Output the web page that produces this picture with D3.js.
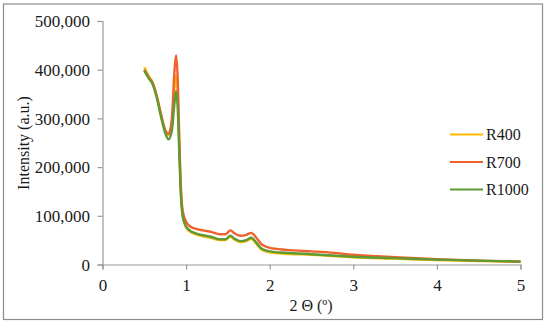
<!DOCTYPE html>
<html>
<head>
<meta charset="utf-8">
<script src="https://cdn.jsdelivr.net/npm/d3@7"></script>
<style>
  body { margin: 0; background: #fff; }
</style>
</head>
<body>
<svg id="grafico"></svg>
<script>
// angulos 2 theta
const angulos = [0.5, 0.55, 0.6, 0.65, 0.7, 0.75, 0.79, 0.83, 0.86, 0.88, 0.9, 0.92, 0.94, 0.96, 1.0, 1.05, 1.1, 1.2, 1.3, 1.4, 1.47, 1.53, 1.58, 1.65, 1.72, 1.78, 1.84, 1.9, 2.0, 2.2, 2.5, 2.7, 3.0, 3.5, 4.0, 4.5, 5.0];

const r400 = [405000, 388000, 374000, 346000, 308000, 275000, 266000, 290000, 360000, 388000, 350000, 235000, 140000, 100000, 76000, 67000, 63000, 58000, 55000, 50000, 50000, 57000, 51000, 46000, 48000, 53000, 43000, 31000, 25000, 22000, 20000, 18000, 15000, 12000, 9000, 7000, 5500];
const r700 = [400000, 385000, 372000, 345000, 308000, 276000, 268000, 300000, 395000, 430000, 380000, 250000, 150000, 110000, 88000, 78000, 74000, 70000, 67000, 62000, 62000, 70000, 64000, 59000, 61000, 65000, 55000, 42000, 34000, 30000, 27000, 25000, 20000, 15000, 11000, 8000, 6000];
const r1000 = [398000, 383000, 370000, 342000, 303000, 270000, 257000, 275000, 330000, 356000, 320000, 220000, 135000, 98000, 78000, 69000, 65000, 60000, 57000, 52000, 52000, 59000, 53000, 48000, 50000, 55000, 45000, 33000, 27000, 24000, 21000, 19000, 16000, 13000, 10000, 8000, 6000];

const nomesSeries = ['R400', 'R700', 'R1000'];
const coresSeries = ['#FFB900', '#F0622D', '#5E9A35'];
const ticksX = [0, 1, 2, 3, 4, 5];
const ticksY = [0, 100000, 200000, 300000, 400000, 500000];

const fonte = "'Liberation Serif'";
const largura = 550, altura = 327;
const svg = d3.select('#grafico').attr('width', largura).attr('height', altura);

// moldura externa
svg.append('rect')
    .attr('x', 3.5).attr('y', 4)
    .attr('width', 539).attr('height', 315.5)
    .attr('fill', 'none').attr('stroke', '#8c8c8c').attr('stroke-width', 1.2);

const fnX = d3.scaleLinear().domain([0, 5]).range([102.5, 520.5]);
const fnY = d3.scaleLinear().domain([0, 500000]).range([264.5, 21]);

const eixoY = svg.append('g')
    .attr('transform', 'translate(102.5,0)')
    .call(d3.axisLeft(fnY).tickValues(ticksY).tickSize(5).tickFormat(d3.format(',')));
eixoY.selectAll('text').attr('x', -12.5).attr('dy', '0.34em');

const eixoX = svg.append('g')
    .attr('transform', 'translate(0,264.5)')
    .call(d3.axisBottom(fnX).tickValues(ticksX).tickSize(5).tickFormat(d3.format('d')));
eixoX.selectAll('text').attr('y', 10).attr('dy', '0.95em');

svg.selectAll('g').attr('font-family', null).attr('font-size', null);
svg.selectAll('.tick text')
    .style('font-family', fonte).style('font-size', '17px').style('fill', '#1a1a1a');
svg.selectAll('.domain, .tick line').attr('stroke', '#9a9a9a').attr('stroke-width', 1.2);

svg.append('text')
    .attr('x', 311).attr('y', 311)
    .style('text-anchor', 'middle')
    .style('font-family', fonte).style('font-size', '16px').style('fill', '#1a1a1a')
    .text('2 Θ (º)');

svg.append('text')
    .attr('transform', 'translate(29,143) rotate(-90)')
    .style('text-anchor', 'middle')
    .style('font-family', fonte).style('font-size', '16px').style('fill', '#1a1a1a')
    .text('Intensity (a.u.)');

const linha = d3.line()
    .x(d => fnX(d[0]))
    .y(d => fnY(d[1]))
    .curve(d3.curveMonotoneX);

[r400, r700, r1000].forEach((serie, i) => {
    svg.append('path')
        .datum(angulos.map((a, j) => [a, serie[j]]))
        .attr('d', linha)
        .attr('fill', 'none')
        .attr('stroke', coresSeries[i])
        .attr('stroke-width', 2.4)
        .attr('stroke-linejoin', 'round');
});

// legenda
const legenda = svg.append('g');
nomesSeries.forEach((nome, i) => {
    const y = 134.5 + i * 27.5;
    legenda.append('line')
        .attr('x1', 450).attr('x2', 483)
        .attr('y1', y).attr('y2', y)
        .attr('stroke', coresSeries[i]).attr('stroke-width', 2);
    legenda.append('text')
        .attr('x', 486).attr('y', y + 5.5)
        .style('font-family', fonte).style('font-size', '16px').style('fill', '#1a1a1a')
        .text(nome);
});
</script>
</body>
</html>
